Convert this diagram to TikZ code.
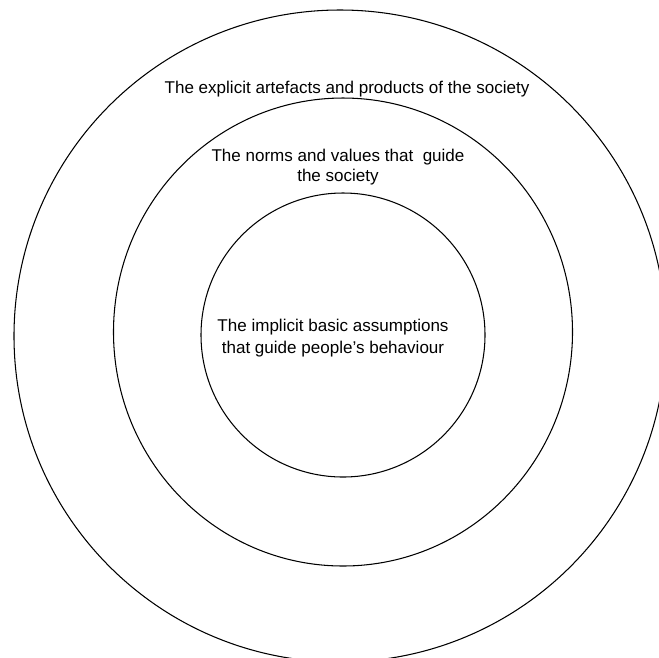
\documentclass[tikz,border=0pt]{standalone}
\usepackage{fontspec}
\setmainfont{Liberation Sans}
\usepackage{tikz}
\usetikzlibrary{positioning}

\tikzset{
  ring/.style={draw=black, line width=0.6pt},
  ringtext/.style={font=\fontsize{9.7}{11.6}\selectfont, align=center, inner sep=0pt}
}

\begin{document}
\begin{tikzpicture}[x=0.02cm, y=-0.02cm]
            \useasboundingbox (0,0) rectangle (659,657);
            \clip (0,0) rectangle (659,657);
            % three layers, outside in
            \draw[ring] (340,336) ellipse (326 and 326);
            \draw[ring] (343,332) ellipse (229.5 and 234);
            \draw[ring] (343,335) circle  (142);
            % labels for each layer
            \node[ringtext, anchor=base] (artefacts) at (347,93)
                 {The explicit artefacts and products of the society};
            \node[ringtext] (norms) at (338,167)
                 {The norms and values that\ \ guide\\the society};
            \node[ringtext, font=\fontsize{9.7}{12.3}\selectfont] (assumptions) at (333,338)
                 {The implicit basic assumptions\\that guide people's behaviour};
\end{tikzpicture}
\end{document}
